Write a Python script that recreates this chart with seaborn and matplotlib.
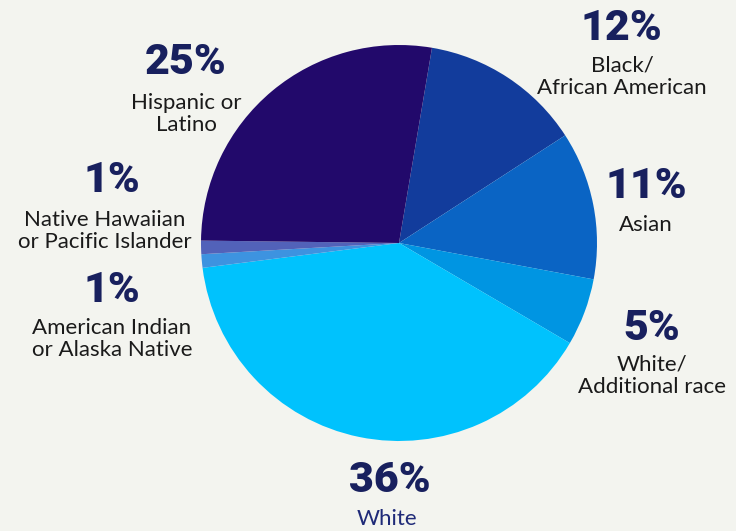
import matplotlib
matplotlib.use("Agg")
import matplotlib.pyplot as plt
import seaborn as sns

# Data
groups = ["Black/\nAfrican American", "Asian", "White/\nAdditional race", "White",
          "American Indian\nor Alaska Native", "Native Hawaiian\nor Pacific Islander",
          "Hispanic or\nLatino"]
shares = [12, 11, 5, 36, 1, 1, 25]
pct_labels = ["12%", "11%", "5%", "36%", "1%", "1%", "25%"]
colors = ["#123c9c", "#0a64c4", "#0095e2", "#00c2fd", "#3d93e0", "#5262b9", "#22096b"]

# label anchor points in pixels (percent centre, name centre)
pct_pos = [(621, 29), (646, 187), (652, 329), (390, 480), (112, 290), (112, 180), (186, 62)]
name_pos = [(622, 77), (646, 225), (652, 376), (387, 519), (112, 339), (105, 231), (186, 114)]
name_colors = ["#1a1a1a"] * 3 + ["#1f2a78"] + ["#1a1a1a"] * 3

BG = "#f3f4ef"
sns.set_theme(style="white")

W, H = 736, 531
cx, cy, r = 399, 243, 198
fig = plt.figure(figsize=(W / 100, H / 100), dpi=100, facecolor=BG)
ax = fig.add_axes([(cx - r) / W, (H - cy - r) / H, 2 * r / W, 2 * r / H])
ax.set_facecolor(BG)

ax.pie(shares, colors=colors, startangle=80.4, counterclock=False,
       wedgeprops=dict(linewidth=0), radius=1)
ax.set_xlim(-1, 1)
ax.set_ylim(-1, 1)
ax.set_aspect("equal")
ax.axis("off")


def to_data(px, py):
    return (px - cx) / r, (cy - py) / r


for i in range(len(groups)):
    x, y = to_data(*pct_pos[i])
    ax.text(x, y, pct_labels[i], ha="center", va="center", fontsize=31,
            fontweight="heavy", color="#18205e", clip_on=False,
            family=["Roboto", "DejaVu Sans"])
    x, y = to_data(*name_pos[i])
    ax.text(x, y, groups[i], ha="center", va="center", fontsize=16,
            color=name_colors[i], clip_on=False, linespacing=1.15,
            family=["Lato", "DejaVu Sans"])

fig.savefig("out.png", dpi=100, facecolor=BG)
